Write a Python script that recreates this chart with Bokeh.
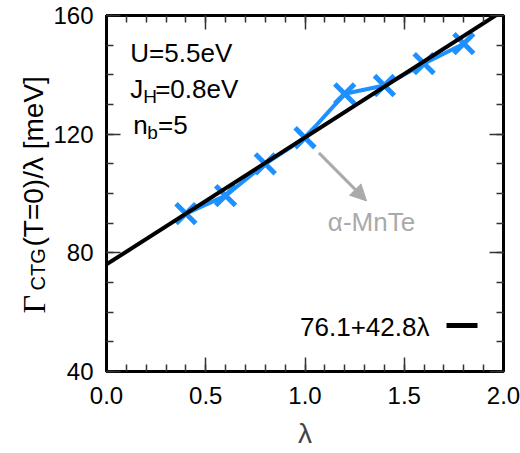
from bokeh.plotting import figure
from bokeh.layouts import row
from bokeh.models import (Range1d, LinearAxis, FixedTicker, NumeralTickFormatter,
                          Label, Arrow, NormalHead, CustomJSTickFormatter)
from bokeh.embed import file_html
from bokeh.resources import INLINE
import numpy as np

# ---- data ----
lam = [0.4, 0.6, 0.8, 1.0, 1.2, 1.4, 1.6, 1.8]
gamma = [93.2, 99.3, 110.0, 118.8, 133.6, 136.4, 143.8, 150.5]
fit_a = 76.1
fit_b = 42.8
fit_x = [0.0, 2.0]
fit_y = [fit_a + fit_b * v for v in fit_x]
x_ticks = [0.0, 0.5, 1.0, 1.5, 2.0]
x_minor = [round(0.1 * i, 1) for i in range(21)]
y_ticks = [40, 80, 120, 160]
y_minor = list(range(40, 161, 10))

FONT = "Liberation Sans"
BLUE = "#1e90ff"
GRAY = "#aaaaaa"

LEFT_W = 50

p = figure(width=520 - LEFT_W, height=453, output_backend="svg", toolbar_location=None,
           x_range=Range1d(0, 2), y_range=Range1d(40, 160),
           min_border_left=105 - LEFT_W, min_border_right=17, min_border_top=15,
           min_border_bottom=82)
p.background_fill_color = "white"
p.border_fill_color = "white"
p.grid.visible = False
p.outline_line_color = "black"
p.outline_line_width = 3


def style_axis(ax, ticks, minor, show_labels):
    ax.ticker = FixedTicker(ticks=ticks, minor_ticks=minor)
    ax.major_tick_in = 14
    ax.major_tick_out = 0
    ax.minor_tick_in = 7
    ax.minor_tick_out = 0
    ax.major_tick_line_width = 1.5
    ax.minor_tick_line_width = 1.5
    ax.major_tick_line_color = "#333333"
    ax.minor_tick_line_color = "#333333"
    ax.axis_line_width = 3
    ax.axis_line_color = "black"
    ax.major_label_text_font = FONT
    ax.major_label_text_color = "black"
    ax.major_label_text_font_size = "24px"
    if not show_labels:
        ax.formatter = CustomJSTickFormatter(code="return ''")
        ax.major_label_standoff = 0


xa = p.xaxis[0]
style_axis(xa, x_ticks, x_minor, True)
xa.formatter = NumeralTickFormatter(format="0.0")
xa.major_label_standoff = 15
xa.axis_label = "λ"
xa.axis_label_text_font = FONT
xa.axis_label_text_font_size = "28px"
xa.axis_label_text_font_style = "normal"
xa.axis_label_standoff = 11

ya = p.yaxis[0]
style_axis(ya, y_ticks, y_minor, True)
ya.major_label_standoff = 13

top = LinearAxis()
style_axis(top, x_ticks, x_minor, False)
p.add_layout(top, "above")
right = LinearAxis()
style_axis(right, y_ticks, y_minor, False)
p.add_layout(right, "right")

# data line and crosses
p.line(lam, gamma, line_color=BLUE, line_width=4)
p.scatter(lam, gamma, marker="x", size=28, line_color=BLUE, line_width=5)

# fit line
p.line(fit_x, fit_y, line_color="black", line_width=4)

# annotation arrow
p.add_layout(Arrow(x_start=1.07, y_start=113.7, x_end=1.31, y_end=97.5,
                   line_color=GRAY, line_width=3,
                   end=NormalHead(size=16, fill_color=GRAY, line_color=GRAY)))
p.add_layout(Label(x=1.335, y=90.3, text="α-MnTe", text_font=FONT, text_font_size="26px",
                   text_color=GRAY, text_align="center", text_baseline="middle"))

# parameter texts
def lab(x, y, t, size="26px", font=FONT, **kw):
    p.add_layout(Label(x=x, y=y, text=t, text_font=font, text_font_size=size,
                       text_color="black", text_baseline="alphabetic", **kw))

lab(0.12, 147.5, "U=5.5eV")
lab(0.12, 135.3, "J")
lab(0.185, 132.6, "H", size="19px")
lab(0.245, 135.3, "=0.8eV")
lab(0.135, 123.1, "n")
lab(0.205, 120.4, "b", size="19px")
lab(0.26, 123.1, "=5")

# legend
p.add_layout(Label(x=1.627, y=55.0, text="76.1+42.8λ", text_font=FONT, text_font_size="26px",
                   text_color="black", text_align="right", text_baseline="alphabetic"))
p.add_layout(Arrow(x_start=1.713, y_start=55.5, x_end=1.869, y_end=55.5,
                   line_color="black", line_width=5, end=None))

# left strip carrying the composed y-axis title
q = figure(width=LEFT_W, height=453, output_backend="svg", toolbar_location=None,
           x_axis_type=None, y_axis_type=None, x_range=Range1d(0, 1), y_range=Range1d(0, 1),
           min_border=0)
q.outline_line_color = None
q.grid.visible = False
q.background_fill_color = "white"
q.border_fill_color = "white"

ang = np.pi / 2
def slab(x, y, t, size, font=FONT):
    q.add_layout(Label(x=x, y=y, x_units="screen", y_units="screen", text=t,
                       text_font=font, text_font_size=size, text_color="black",
                       text_baseline="alphabetic", angle=ang))

slab(33, 58, "Γ", "32px", "Liberation Serif")
slab(37, 81, "CTG", "20px")
slab(33, 125, "(T=0)/λ [meV]", "28px")

layout = row(q, p, spacing=0)
open("out.html", "w").write(file_html(layout, INLINE))
